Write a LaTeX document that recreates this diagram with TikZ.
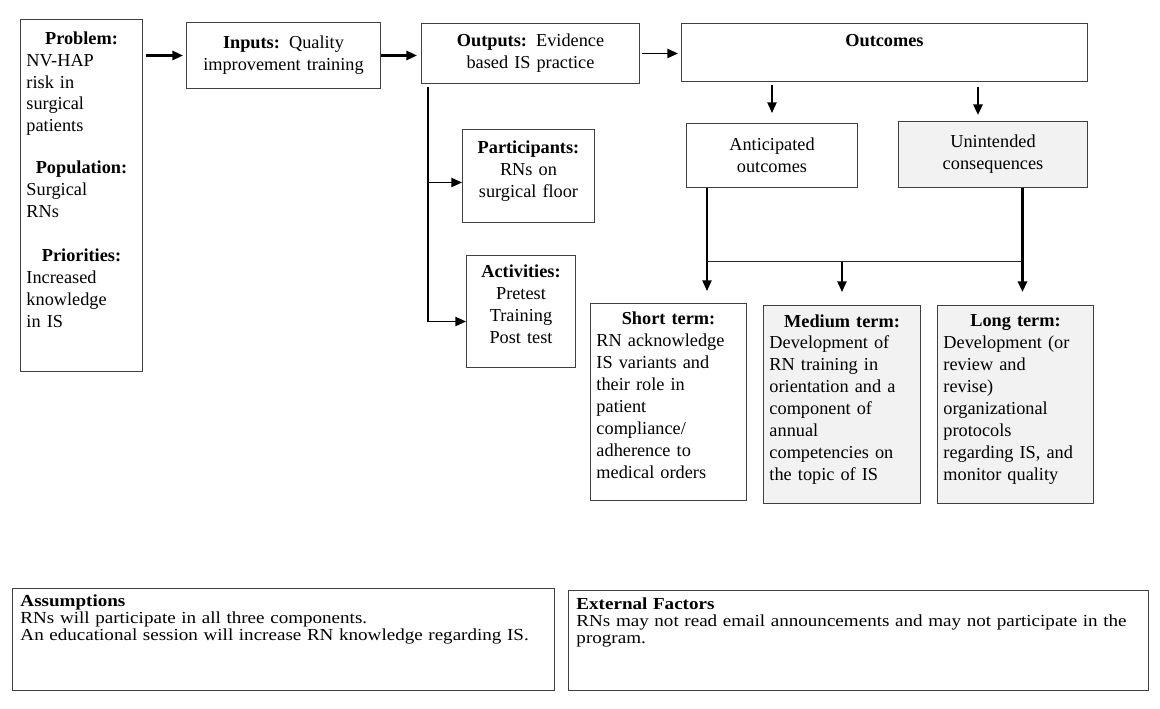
\documentclass[tikz,border=0pt]{standalone}
\usepackage{fontspec}
\setmainfont{Liberation Serif}
\newfontfamily\notefont[FakeStretch=1.13]{Liberation Serif}
\usepackage{tikz}
\usetikzlibrary{arrows.meta}
\newlength{\px}
\setlength{\px}{0.025cm}
\newcommand{\hd}[1]{{\centering\textbf{#1}\par}}
\newcommand{\dn}[1]{\rule[-#1]{0pt}{#1}}

\begin{document}
\begin{tikzpicture}[x=\px, y=-\px, >={Triangle[length=7.5pt,width=6.5pt]},
  box/.style={draw=black!75, line width=0.7pt, anchor=north west, inner xsep=6\px, inner ysep=2\px,
    font=\fontsize{13}{15.6}\selectfont},
  grey/.style={fill=black!5},
  note/.style={draw=black!75, line width=0.7pt, anchor=north west, inner xsep=8\px, inner ysep=3\px,
    align=left, font=\notefont\fontsize{12}{12.2}\selectfont},
  link/.style={->, line width=1.1pt},
  heavy/.style={->, line width=1.7pt},
  bar/.style={line width=0.7pt, black!85}]

\useasboundingbox (0,0) rectangle (1160,709);

% top row
\node[box, minimum width=122\px, minimum height=352\px, text width=110\px, align=left] (prob) at (20,19)
  {\hd{Problem:}NV-HAP\\risk in\\surgical\\patients\par\vspace{20\px}
   \hd{Population:}Surgical\\RNs\par\vspace{22\px}
   \hd{Priorities:}Increased\\knowledge\\in IS\dn{32\px}};

\node[box, minimum width=194\px, minimum height=66\px, text width=182\px, align=center] (inp) at (186,22)
  {\textbf{Inputs:} Quality\\improvement training};

\node[box, minimum width=218\px, minimum height=60\px, text width=206\px, align=center] (outp) at (421,23)
  {\textbf{Outputs:} Evidence\\based IS practice};

\node[box, minimum width=406\px, minimum height=58\px, text width=394\px, align=center] (outc) at (681,23)
  {\textbf{Outcomes}\dn{24\px}};

\node[box, minimum width=171\px, minimum height=64\px, text width=159\px, align=center] (antic) at (686,123)
  {Anticipated\\outcomes};

\node[box, grey, minimum width=189\px, minimum height=66\px, text width=177\px, align=center] (unint) at (898,121)
  {Unintended\\consequences};

% outputs branch
\node[box, minimum width=132\px, minimum height=93\px, text width=120\px, align=center] (part) at (462,129)
  {\textbf{Participants:}\\RNs on\\surgical floor\dn{14\px}};

\node[box, minimum width=109\px, minimum height=112\px, text width=97\px, align=center] (act) at (466,255)
  {\textbf{Activities:}\\Pretest\\Training\\Post test\dn{14\px}};

% terms
\node[box, minimum width=156\px, minimum height=197\px, text width=144\px, align=left] (shortt) at (590,303)
  {\hd{Short term:}RN acknowledge\\IS variants and\\their role in\\patient\\compliance/\\adherence to\\medical orders\dn{14\px}};

\node[box, grey, minimum width=157\px, minimum height=198\px, text width=145\px, align=left] (medt) at (763,305)
  {\hd{Medium term:}Development of\\RN training in\\orientation and a\\component of\\annual\\competencies on\\the topic of IS\dn{14\px}};

\node[box, grey, minimum width=156\px, minimum height=198\px, text width=144\px, align=left] (longt) at (937,305)
  {\hd{Long term:}Development (or\\review and\\revise)\\organizational\\protocols\\regarding IS, and\\monitor quality\dn{14\px}};

% bottom notes
\node[note, minimum width=542\px, minimum height=102\px, text width=526\px] (assum) at (12,588)
  {\textbf{Assumptions}\\RNs will participate in all three components.\\An educational session will increase RN knowledge regarding IS.\dn{44\px}};

\node[note, minimum width=580\px, minimum height=100\px, text width=564\px] (ext) at (568,590)
  {\textbf{External Factors}\\RNs may not read email announcements and may not participate in the\\program.\dn{40\px}};

% arrows along the top
\draw[heavy, shorten <=3\px, shorten >=3\px] (prob.east |- inp.west) -- (inp.west);
\draw[heavy, shorten >=4\px] (inp.east) -- (outp.west |- inp.east);
\draw[link, shorten <=2\px, shorten >=3\px] (outp.east) -- (outc.west |- outp.east);

\draw[link, shorten <=3\px, shorten >=10\px] (antic.north |- outc.south) -- (antic.north);
\coordinate (u) at ([xshift=-15\px]unint.north);
\draw[heavy, shorten <=5\px, shorten >=6\px] (u |- outc.south) -- (u);

% outputs spine
\coordinate (spine) at ([xshift=7\px, yshift=-3\px]outp.south west);
\draw[link] (spine) |- ([yshift=-6.5\px]part.west);
\draw[link] (spine) |- ([yshift=-10\px]act.west);

% outcomes to terms
\coordinate (sa) at ([xshift=-65\px]antic.south);
\coordinate (ub) at ([xshift=29.5\px]unint.south);
\coordinate (jn) at ([yshift=-74\px]sa);
\draw[link, shorten >=12\px] (sa) -- (sa |- shortt.north);
\draw[bar] (jn) -- (jn -| ub);
\draw[link, shorten >=13\px] (jn -| medt.north) -- (medt.north);
\draw[heavy, shorten >=13\px] (ub) -- (ub |- longt.north);

\end{tikzpicture}
\end{document}
